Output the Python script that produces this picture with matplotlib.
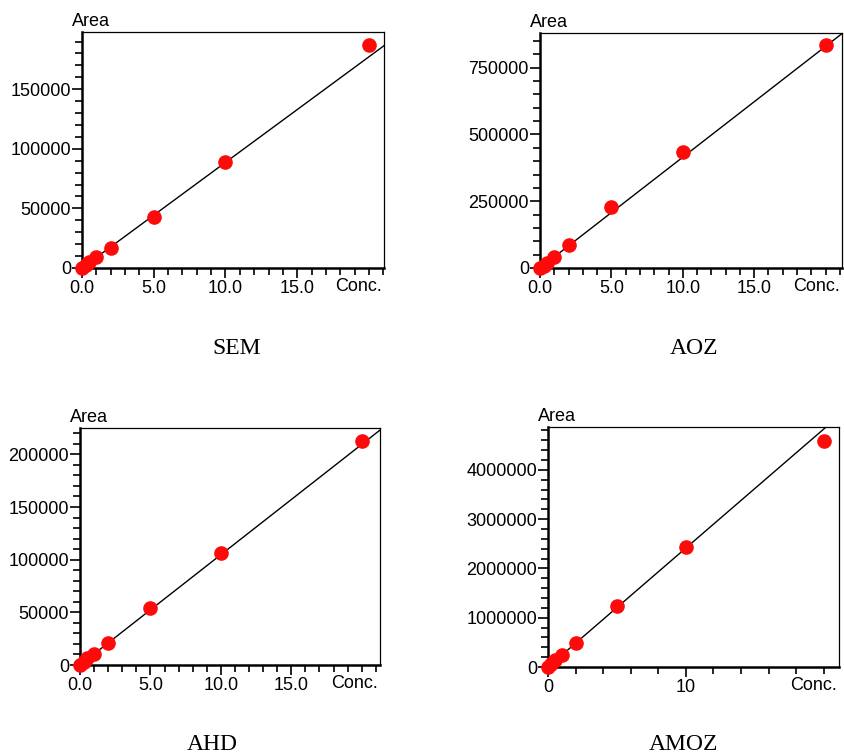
import numpy as np
import matplotlib.pyplot as plt
from matplotlib.ticker import MultipleLocator, FixedLocator

plt.rcParams['font.family'] = ['Liberation Sans', 'DejaVu Sans']

# concentrations of the calibration standards
conc = [0, 0.25, 0.5, 1, 2, 5, 10, 20]

# peak areas
sem_area = [0, 2500, 5300, 9000, 16500, 43100, 88800, 187400]
aoz_area = [0, 9000, 17600, 42500, 86000, 229500, 435500, 835000]
ahd_area = [0, 3000, 6300, 10500, 20700, 53900, 106200, 213000]
amoz_area = [0, 70000, 150000, 240000, 480000, 1237000, 2425000, 4590000]

# calibration line slopes (intercept ~ 0)
slopes = [8860, 41500, 10470, 241500]
names = ["SEM", "AOZ", "AHD", "AMOZ"]

W, H = 844, 755
# axes boxes in pixels: left, right, top, bottom
boxes = [(82, 384, 32, 268), (540, 842, 33, 268),
         (80, 380, 428, 665), (548, 839, 427, 667)]
xmax = [21.05, 21.15, 21.3, 21.1]
ymax = [198000, 880000, 225000, 4870000]
ymajor = [50000, 250000, 50000, 1000000]
yminor = [10000, 50000, 10000, 200000]
title_pos = [(237, 349), (694, 349), (212, 744), (683, 744)]

fig = plt.figure(figsize=(W / 100, H / 100), dpi=100)

areas = [sem_area, aoz_area, ahd_area, amoz_area]
for i in range(4):
    l, r, t, b = boxes[i]
    ax = fig.add_axes([l / W, 1 - b / H, (r - l) / W, (b - t) / H])
    x = np.linspace(0, xmax[i], 50)
    ax.plot(x, slopes[i] * x, color="black", lw=1.0)
    ax.plot(conc, areas[i], "o", color="#ff0a0a", ms=9.5, clip_on=False, zorder=5)
    ax.set_xlim(0, xmax[i])
    ax.set_ylim(0, ymax[i])

    if i < 3:
        ax.xaxis.set_major_locator(FixedLocator([0, 5, 10, 15]))
        ax.set_xticklabels(["0.0", "5.0", "10.0", "15.0"])
        ax.xaxis.set_minor_locator(MultipleLocator(1))
    else:
        ax.xaxis.set_major_locator(FixedLocator([0, 10]))
        ax.set_xticklabels(["0", "10"])
        ax.xaxis.set_minor_locator(MultipleLocator(2))
    ax.yaxis.set_major_locator(MultipleLocator(ymajor[i]))
    ax.yaxis.set_minor_locator(MultipleLocator(yminor[i]))
    ax.yaxis.set_major_formatter(plt.FuncFormatter(lambda v, p: "%d" % v))

    ax.tick_params(which="major", length=7, width=1.2, labelsize=13, pad=1)
    ax.tick_params(which="minor", length=5, width=1.2)
    ax.tick_params(axis="x", which="major", pad=2)
    for s in ["left", "bottom"]:
        ax.spines[s].set_linewidth(1.8)
    for s in ["top", "right"]:
        ax.spines[s].set_linewidth(0.9)

    ax.annotate("Area", xy=(0, 1), xycoords="axes fraction", xytext=(-10, 2),
                textcoords="offset pixels", ha="left", va="bottom", fontsize=13)
    ax.annotate("Conc.", xy=(1, 0), xycoords="axes fraction", xytext=(-2, -10),
                textcoords="offset pixels", ha="right", va="top", fontsize=13)

    tx, ty = title_pos[i]
    fig.text(tx / W, 1 - ty / H, names[i], ha="center", va="center",
             fontsize=17, family="Liberation Serif")

fig.savefig("out.png", dpi=100)
